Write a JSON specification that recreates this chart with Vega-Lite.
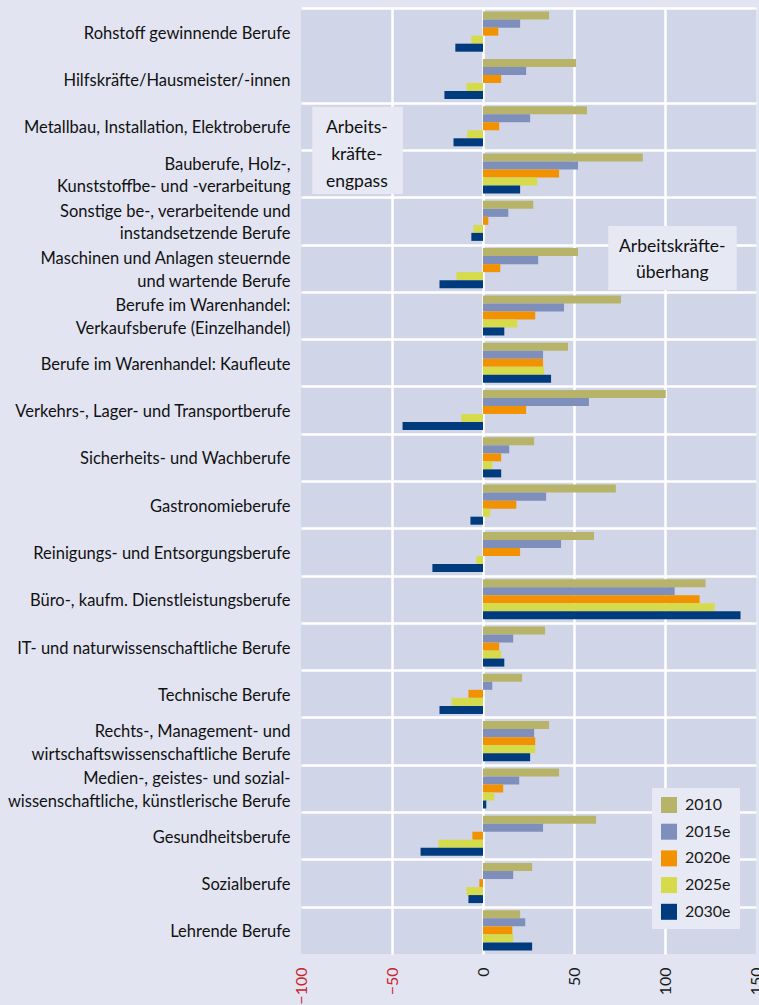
{
  "$schema": "https://vega.github.io/schema/vega-lite/v6.json",
  "width": 455,
  "height": 946,
  "autosize": {"type": "none"},
  "padding": {"left": 301, "top": 8, "right": 3, "bottom": 51},
  "background": "#e2e5f1",
  "config": {
    "view": {"fill": "#d0d5e8", "stroke": null},
    "font": "Lato"
  },
  "datasets": {
    "werte": [
      {"beruf": "Rohstoff gewinnende Berufe", "jahr": "2010", "wert": 36.3},
      {"beruf": "Rohstoff gewinnende Berufe", "jahr": "2015e", "wert": 20.4},
      {"beruf": "Rohstoff gewinnende Berufe", "jahr": "2020e", "wert": 8.4},
      {"beruf": "Rohstoff gewinnende Berufe", "jahr": "2025e", "wert": -6.4},
      {"beruf": "Rohstoff gewinnende Berufe", "jahr": "2030e", "wert": -15.2},
      {"beruf": "Hilfskräfte/Hausmeister/-innen", "jahr": "2010", "wert": 51.1},
      {"beruf": "Hilfskräfte/Hausmeister/-innen", "jahr": "2015e", "wert": 23.7},
      {"beruf": "Hilfskräfte/Hausmeister/-innen", "jahr": "2020e", "wert": 10.0},
      {"beruf": "Hilfskräfte/Hausmeister/-innen", "jahr": "2025e", "wert": -9.1},
      {"beruf": "Hilfskräfte/Hausmeister/-innen", "jahr": "2030e", "wert": -21.2},
      {"beruf": "Metallbau, Installation, Elektroberufe", "jahr": "2010", "wert": 57.1},
      {"beruf": "Metallbau, Installation, Elektroberufe", "jahr": "2015e", "wert": 25.9},
      {"beruf": "Metallbau, Installation, Elektroberufe", "jahr": "2020e", "wert": 8.9},
      {"beruf": "Metallbau, Installation, Elektroberufe", "jahr": "2025e", "wert": -8.6},
      {"beruf": "Metallbau, Installation, Elektroberufe", "jahr": "2030e", "wert": -16.2},
      {"beruf": "Bauberufe, Holz-,|Kunststoffbe- und -verarbeitung", "jahr": "2010", "wert": 87.8},
      {"beruf": "Bauberufe, Holz-,|Kunststoffbe- und -verarbeitung", "jahr": "2015e", "wert": 52.2},
      {"beruf": "Bauberufe, Holz-,|Kunststoffbe- und -verarbeitung", "jahr": "2020e", "wert": 41.8},
      {"beruf": "Bauberufe, Holz-,|Kunststoffbe- und -verarbeitung", "jahr": "2025e", "wert": 29.8},
      {"beruf": "Bauberufe, Holz-,|Kunststoffbe- und -verarbeitung", "jahr": "2030e", "wert": 20.4},
      {"beruf": "Sonstige be-, verarbeitende und|instandsetzende Berufe", "jahr": "2010", "wert": 27.6},
      {"beruf": "Sonstige be-, verarbeitende und|instandsetzende Berufe", "jahr": "2015e", "wert": 13.9},
      {"beruf": "Sonstige be-, verarbeitende und|instandsetzende Berufe", "jahr": "2020e", "wert": 2.9},
      {"beruf": "Sonstige be-, verarbeitende und|instandsetzende Berufe", "jahr": "2025e", "wert": -5.3},
      {"beruf": "Sonstige be-, verarbeitende und|instandsetzende Berufe", "jahr": "2030e", "wert": -6.4},
      {"beruf": "Maschinen und Anlagen steuernde|und wartende Berufe", "jahr": "2010", "wert": 52.2},
      {"beruf": "Maschinen und Anlagen steuernde|und wartende Berufe", "jahr": "2015e", "wert": 30.3},
      {"beruf": "Maschinen und Anlagen steuernde|und wartende Berufe", "jahr": "2020e", "wert": 9.5},
      {"beruf": "Maschinen und Anlagen steuernde|und wartende Berufe", "jahr": "2025e", "wert": -14.6},
      {"beruf": "Maschinen und Anlagen steuernde|und wartende Berufe", "jahr": "2030e", "wert": -23.9},
      {"beruf": "Berufe im Warenhandel:|Verkaufsberufe (Einzelhandel)", "jahr": "2010", "wert": 75.8},
      {"beruf": "Berufe im Warenhandel:|Verkaufsberufe (Einzelhandel)", "jahr": "2015e", "wert": 44.5},
      {"beruf": "Berufe im Warenhandel:|Verkaufsberufe (Einzelhandel)", "jahr": "2020e", "wert": 28.7},
      {"beruf": "Berufe im Warenhandel:|Verkaufsberufe (Einzelhandel)", "jahr": "2025e", "wert": 18.8},
      {"beruf": "Berufe im Warenhandel:|Verkaufsberufe (Einzelhandel)", "jahr": "2030e", "wert": 11.7},
      {"beruf": "Berufe im Warenhandel: Kaufleute", "jahr": "2010", "wert": 46.7},
      {"beruf": "Berufe im Warenhandel: Kaufleute", "jahr": "2015e", "wert": 33.0},
      {"beruf": "Berufe im Warenhandel: Kaufleute", "jahr": "2020e", "wert": 33.0},
      {"beruf": "Berufe im Warenhandel: Kaufleute", "jahr": "2025e", "wert": 33.6},
      {"beruf": "Berufe im Warenhandel: Kaufleute", "jahr": "2030e", "wert": 37.4},
      {"beruf": "Verkehrs-, Lager- und Transportberufe", "jahr": "2010", "wert": 100.4},
      {"beruf": "Verkehrs-, Lager- und Transportberufe", "jahr": "2015e", "wert": 58.2},
      {"beruf": "Verkehrs-, Lager- und Transportberufe", "jahr": "2020e", "wert": 23.7},
      {"beruf": "Verkehrs-, Lager- und Transportberufe", "jahr": "2025e", "wert": -11.9},
      {"beruf": "Verkehrs-, Lager- und Transportberufe", "jahr": "2030e", "wert": -44.2},
      {"beruf": "Sicherheits- und Wachberufe", "jahr": "2010", "wert": 28.1},
      {"beruf": "Sicherheits- und Wachberufe", "jahr": "2015e", "wert": 14.4},
      {"beruf": "Sicherheits- und Wachberufe", "jahr": "2020e", "wert": 10.0},
      {"beruf": "Sicherheits- und Wachberufe", "jahr": "2025e", "wert": 5.1},
      {"beruf": "Sicherheits- und Wachberufe", "jahr": "2030e", "wert": 10.0},
      {"beruf": "Gastronomieberufe", "jahr": "2010", "wert": 73.0},
      {"beruf": "Gastronomieberufe", "jahr": "2015e", "wert": 34.7},
      {"beruf": "Gastronomieberufe", "jahr": "2020e", "wert": 18.3},
      {"beruf": "Gastronomieberufe", "jahr": "2025e", "wert": 4.0},
      {"beruf": "Gastronomieberufe", "jahr": "2030e", "wert": -6.9},
      {"beruf": "Reinigungs- und Entsorgungsberufe", "jahr": "2010", "wert": 61.0},
      {"beruf": "Reinigungs- und Entsorgungsberufe", "jahr": "2015e", "wert": 42.9},
      {"beruf": "Reinigungs- und Entsorgungsberufe", "jahr": "2020e", "wert": 20.4},
      {"beruf": "Reinigungs- und Entsorgungsberufe", "jahr": "2025e", "wert": -3.7},
      {"beruf": "Reinigungs- und Entsorgungsberufe", "jahr": "2030e", "wert": -27.8},
      {"beruf": "Büro-, kaufm. Dienstleistungsberufe", "jahr": "2010", "wert": 122.3},
      {"beruf": "Büro-, kaufm. Dienstleistungsberufe", "jahr": "2015e", "wert": 105.3},
      {"beruf": "Büro-, kaufm. Dienstleistungsberufe", "jahr": "2020e", "wert": 119.0},
      {"beruf": "Büro-, kaufm. Dienstleistungsberufe", "jahr": "2025e", "wert": 127.3},
      {"beruf": "Büro-, kaufm. Dienstleistungsberufe", "jahr": "2030e", "wert": 141.5},
      {"beruf": "IT- und naturwissenschaftliche Berufe", "jahr": "2010", "wert": 34.1},
      {"beruf": "IT- und naturwissenschaftliche Berufe", "jahr": "2015e", "wert": 16.6},
      {"beruf": "IT- und naturwissenschaftliche Berufe", "jahr": "2020e", "wert": 8.9},
      {"beruf": "IT- und naturwissenschaftliche Berufe", "jahr": "2025e", "wert": 10.0},
      {"beruf": "IT- und naturwissenschaftliche Berufe", "jahr": "2030e", "wert": 11.7},
      {"beruf": "Technische Berufe", "jahr": "2010", "wert": 21.5},
      {"beruf": "Technische Berufe", "jahr": "2015e", "wert": 5.1},
      {"beruf": "Technische Berufe", "jahr": "2020e", "wert": -8.0},
      {"beruf": "Technische Berufe", "jahr": "2025e", "wert": -17.3},
      {"beruf": "Technische Berufe", "jahr": "2030e", "wert": -23.9},
      {"beruf": "Rechts-, Management- und|wirtschaftswissenschaftliche Berufe", "jahr": "2010", "wert": 36.3},
      {"beruf": "Rechts-, Management- und|wirtschaftswissenschaftliche Berufe", "jahr": "2015e", "wert": 28.1},
      {"beruf": "Rechts-, Management- und|wirtschaftswissenschaftliche Berufe", "jahr": "2020e", "wert": 28.7},
      {"beruf": "Rechts-, Management- und|wirtschaftswissenschaftliche Berufe", "jahr": "2025e", "wert": 28.7},
      {"beruf": "Rechts-, Management- und|wirtschaftswissenschaftliche Berufe", "jahr": "2030e", "wert": 25.9},
      {"beruf": "Medien-, geistes- und sozial-|wissenschaftliche, künstlerische Berufe", "jahr": "2010", "wert": 41.8},
      {"beruf": "Medien-, geistes- und sozial-|wissenschaftliche, künstlerische Berufe", "jahr": "2015e", "wert": 19.9},
      {"beruf": "Medien-, geistes- und sozial-|wissenschaftliche, künstlerische Berufe", "jahr": "2020e", "wert": 11.1},
      {"beruf": "Medien-, geistes- und sozial-|wissenschaftliche, künstlerische Berufe", "jahr": "2025e", "wert": 6.2},
      {"beruf": "Medien-, geistes- und sozial-|wissenschaftliche, künstlerische Berufe", "jahr": "2030e", "wert": 1.8},
      {"beruf": "Gesundheitsberufe", "jahr": "2010", "wert": 62.1},
      {"beruf": "Gesundheitsberufe", "jahr": "2015e", "wert": 33.0},
      {"beruf": "Gesundheitsberufe", "jahr": "2020e", "wert": -5.8},
      {"beruf": "Gesundheitsberufe", "jahr": "2025e", "wert": -24.5},
      {"beruf": "Gesundheitsberufe", "jahr": "2030e", "wert": -34.3},
      {"beruf": "Sozialberufe", "jahr": "2010", "wert": 27.0},
      {"beruf": "Sozialberufe", "jahr": "2015e", "wert": 16.6},
      {"beruf": "Sozialberufe", "jahr": "2020e", "wert": -2.0},
      {"beruf": "Sozialberufe", "jahr": "2025e", "wert": -9.1},
      {"beruf": "Sozialberufe", "jahr": "2030e", "wert": -8.0},
      {"beruf": "Lehrende Berufe", "jahr": "2010", "wert": 20.4},
      {"beruf": "Lehrende Berufe", "jahr": "2015e", "wert": 23.2},
      {"beruf": "Lehrende Berufe", "jahr": "2020e", "wert": 16.1},
      {"beruf": "Lehrende Berufe", "jahr": "2025e", "wert": 16.6},
      {"beruf": "Lehrende Berufe", "jahr": "2030e", "wert": 27.0}
    ],
    "boxen": [
      {"name": "engpass", "x": -93.8, "x2": -44.0, "y": 2.09, "y2": 3.93},
      {"name": "ueberhang", "x": 68.8, "x2": 139.4, "y": 4.61, "y2": 5.96}
    ],
    "texte": [
      {"x": -69.3, "y": 2.54, "text": "Arbeits-"},
      {"x": -69.3, "y": 3.11, "text": "kräfte-"},
      {"x": -69.3, "y": 3.68, "text": "engpass"},
      {"x": 104.0, "y": 5.05, "text": "Arbeitskräfte-"},
      {"x": 104.0, "y": 5.6, "text": "überhang"}
    ]
  },
  "layer": [
    {
      "data": {"name": "werte"},
      "mark": {"type": "bar"},
      "encoding": {
        "y": {
          "field": "beruf",
          "type": "nominal",
          "sort": null,
          "scale": {"paddingInner": 0, "paddingOuter": 0},
          "axis": {
            "title": null,
            "labelExpr": "split(datum.label, '|')",
            "labelFont": "Lato",
            "labelFontSize": 16.5,
            "labelColor": "#111111",
            "labelLineHeight": 22.5,
            "labelPadding": 11,
            "labelLimit": 0,
            "labelOffset": {"condition": {"test": "isString(datum.value) && indexof(datum.value, '|') >= 0", "value": -9.5}, "value": 1.5},
            "ticks": false,
            "domain": false,
            "grid": true,
            "tickBand": "extent",
            "gridColor": {"condition": {"test": "datum.index == 0 || datum.index == 1", "value": "transparent"}, "value": "#ffffff"},
            "gridWidth": 2.5,
            "gridOpacity": 1
          }
        },
        "yOffset": {
          "field": "jahr",
          "type": "nominal",
          "sort": ["2010", "2015e", "2020e", "2025e", "2030e"],
          "scale": {"paddingInner": 0, "paddingOuter": 0.45}
        },
        "x": {
          "field": "wert",
          "type": "quantitative",
          "scale": {"domain": [-100, 150], "nice": false, "zero": false},
          "axis": {
            "title": null,
            "orient": "bottom",
            "values": [-100, -50, 0, 50, 100, 150],
            "labelAngle": -90,
            "labelFont": "Lato",
            "labelFontSize": 16,
            "labelColor": {"condition": {"test": "datum.value < 0", "value": "#c8262e"}, "value": "#1a1a1a"},
            "labelPadding": 13,
            "ticks": false,
            "domain": false,
            "grid": true,
            "gridColor": {"condition": {"test": "datum.value == -100 || datum.value == 150", "value": "transparent"}, "value": "#ffffff"},
            "gridWidth": 2.5,
            "gridOpacity": 1
          }
        },
        "color": {
          "field": "jahr",
          "type": "nominal",
          "scale": {
            "domain": ["2010", "2015e", "2020e", "2025e", "2030e"],
            "range": ["#b7b46a", "#7f8fbb", "#f39200", "#d5db4b", "#003c7d"]
          },
          "legend": {
            "title": null,
            "orient": "none",
            "legendX": 351,
            "legendY": 780,
            "fillColor": "#e7e9f4",
            "padding": 9,
            "symbolType": "square",
            "symbolSize": 256,
            "symbolStrokeWidth": 0,
            "symbolOpacity": 1,
            "labelFont": "Lato",
            "labelFontSize": 16,
            "labelColor": "#1a1a1a",
            "labelOffset": 8,
            "rowPadding": 10.7
          }
        }
      }
    },
    {
      "data": {"name": "boxen"},
      "mark": {"type": "rect", "color": "#e6e8f3", "opacity": 1},
      "encoding": {
        "x": {"field": "x", "type": "quantitative"},
        "x2": {"field": "x2"},
        "y": {"field": "y", "type": "quantitative", "scale": {"domain": [0, 20], "reverse": true, "nice": false, "zero": false}, "axis": null},
        "y2": {"field": "y2"}
      }
    },
    {
      "data": {"name": "texte"},
      "mark": {"type": "text", "font": "Lato", "fontSize": 17.5, "color": "#111111", "align": "center", "baseline": "middle"},
      "encoding": {
        "x": {"field": "x", "type": "quantitative"},
        "y": {"field": "y", "type": "quantitative", "scale": {"domain": [0, 20], "reverse": true, "nice": false, "zero": false}, "axis": null},
        "text": {"field": "text", "type": "nominal"}
      }
    }
  ],
  "resolve": {"scale": {"y": "independent", "color": "independent"}}
}
